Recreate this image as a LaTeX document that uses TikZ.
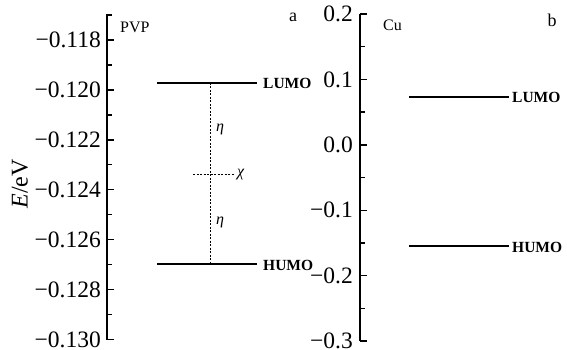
\documentclass[tikz,border=0pt]{standalone}
\usepackage{fontspec}
\setmainfont{Liberation Serif}
\begin{document}
\begin{tikzpicture}[x=1pt, y=-1pt,
      axisline/.style={line width=1.4pt},
      lvl/.style={line width=1.4pt},
      guide/.style={line width=0.6pt, dash pattern=on 2pt off 1.5pt},
      ticklbl/.style={anchor=east, inner sep=0pt, font=\fontsize{23.5}{24}\selectfont},
      orb/.style={anchor=west, inner sep=0pt, font=\fontsize{15.5}{16}\selectfont\bfseries},
      tag/.style={anchor=west, inner sep=0pt, font=\fontsize{16}{16}\selectfont},
      sym/.style={anchor=west, inner sep=0pt, font=\fontsize{16}{16}\selectfont\itshape}]
    \useasboundingbox (0,0) rectangle (567,350);
    % left axis (PVP)
    \draw[axisline] (107,14) -- (107,340);
    \foreach \v [count=\i from 0] in {118,120,122,124,126,128,130} {
      \draw[axisline] (107,40+\i*49.93) -- ++(7,0);
      \node[ticklbl] (la\i) at (101,40+\i*49.93) {−0.\v};
    }
    \foreach \i in {0,...,6}
      \draw[axisline] (107,15+\i*49.93) -- ++(5,0);
    \node[anchor=center, rotate=90, inner sep=0pt, font=\fontsize{24}{24}\selectfont] (ylab) at (20,184) {\textit{E}/eV};
    % right axis (Cu)
    \draw[axisline] (360,14) -- (360,341);
    \foreach \v [count=\i from 0] in {0.2,0.1,0.0,−0.1,−0.2,−0.3} {
      \draw[axisline] (360,14+\i*65.4) -- ++(7,0);
      \node[ticklbl] (ra\i) at (353,14+\i*65.4) {\v};
    }
    \foreach \i in {0,...,4}
      \draw[axisline] (360,46.7+\i*65.4) -- ++(5,0);
    % panel tags
    \node[tag] (pvp) at (120,27) {PVP};
    \node[tag] (cu) at (383,25) {Cu};
    \node[anchor=center, inner sep=0pt, font=\fontsize{18}{18}\selectfont] (tagA) at (293,17) {a};
    \node[anchor=center, inner sep=0pt, font=\fontsize{18}{18}\selectfont] (tagB) at (552,20) {b};
    % PVP levels
    \coordinate (pL1) at (157,83);
    \coordinate (pL2) at (257,83);
    \coordinate (pH1) at (157,264);
    \coordinate (pH2) at (257,264);
    \coordinate (pLm) at (210,83);
    \coordinate (pHm) at (210,264);
    \coordinate (chiA) at (193,174);
    \coordinate (chiB) at (235,174);
    \draw[lvl] (pL1) -- (pL2);
    \draw[lvl] (pH1) -- (pH2);
    \node[orb] (pLumo) at (263,83) {LUMO};
    \node[orb] (pHumo) at (263,265) {HUMO};
    \draw[guide] (pLm) -- (pHm);
    \draw[guide] (chiA) -- (chiB);
    \node[sym] (chi) at (237,175) {χ};
    \node[sym] (eta1) at (216,129) {η};
    \node[sym] (eta2) at (216,222) {η};
    % Cu levels
    \coordinate (cL1) at (409,97);
    \coordinate (cL2) at (509,97);
    \coordinate (cH1) at (409,246);
    \coordinate (cH2) at (509,246);
    \draw[lvl] (cL1) -- (cL2);
    \draw[lvl] (cH1) -- (cH2);
    \node[orb] (cLumo) at (512,97) {LUMO};
    \node[orb] (cHumo) at (512,247) {HUMO};
  \end{tikzpicture}
\end{document}
